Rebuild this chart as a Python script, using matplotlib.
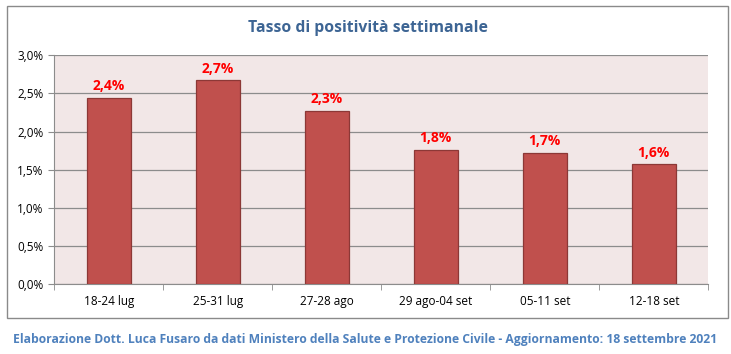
import numpy as np
import matplotlib.pyplot as plt
from matplotlib.patches import Rectangle
from matplotlib.ticker import FuncFormatter

# Weekly positivity rate (%)
weeks = ["18-24 lug", "25-31 lug", "27-28 ago", "29 ago-04 set", "05-11 set", "12-18 set"]
rates = [2.44, 2.67, 2.27, 1.76, 1.72, 1.57]
yticks = [0.0, 0.5, 1.0, 1.5, 2.0, 2.5, 3.0]

plt.rcParams['font.family'] = ['Open Sans', 'DejaVu Sans']

fig = plt.figure(figsize=(7.31, 3.54), dpi=100)

# outer chart border
fig.patches.append(Rectangle((7 / 731, 1 - 318 / 354), 721 / 731, 312 / 354,
                             transform=fig.transFigure, fill=False,
                             edgecolor='#8a8a8a', linewidth=1.0))

ax = fig.add_axes([54.3 / 731, 1 - 284 / 354, 654 / 731, 228.7 / 354])
ax.set_facecolor('#f2e7e7')

x = np.arange(len(weeks))
ax.bar(x, rates, width=0.4, color='#c0504d', edgecolor='#8c3836', linewidth=0.9, zorder=3)

for xi, r in zip(x, rates):
    ax.text(xi, r + 0.06, f"{r:.1f}%".replace('.', ','), ha='center', va='bottom',
            color='#ff0000', fontsize=10, fontweight='bold', zorder=4)

ax.set_xlim(-0.5, len(weeks) - 0.5)
ax.set_ylim(0, 3.0)
ax.set_yticks(yticks)
ax.yaxis.set_major_formatter(FuncFormatter(lambda v, p: f"{v:.1f}%".replace('.', ',')))
ax.grid(axis='y', color='#8c8c8c', linewidth=0.9, zorder=1)

ax.set_xticks(x)
ax.set_xticklabels(weeks)
ax.set_xticks(np.arange(len(weeks) + 1) - 0.5, minor=True)
ax.tick_params(axis='x', which='major', length=0, pad=8, labelsize=8.5, colors='black')
ax.tick_params(axis='x', which='minor', length=4, color='#8c8c8c', direction='out')
ax.tick_params(axis='y', length=4, color='#8c8c8c', labelsize=8.5, pad=4)

for side in ['top', 'right']:
    ax.spines[side].set_visible(False)
for side in ['left', 'bottom']:
    ax.spines[side].set_color('#8c8c8c')

fig.text(368 / 731, 1 - 28 / 354, "Tasso di positività settimanale", ha='center', va='center',
         fontsize=11.3, fontweight='bold', color='#3d6594')
fig.text(365 / 731, 1 - 340 / 354,
         "Elaborazione Dott. Luca Fusaro da dati Ministero della Salute e Protezione Civile - Aggiornamento: 18 settembre 2021",
         ha='center', va='center', fontsize=8.75, fontweight='bold', color='#4f81bd')

fig.savefig('out.png', dpi=100)
